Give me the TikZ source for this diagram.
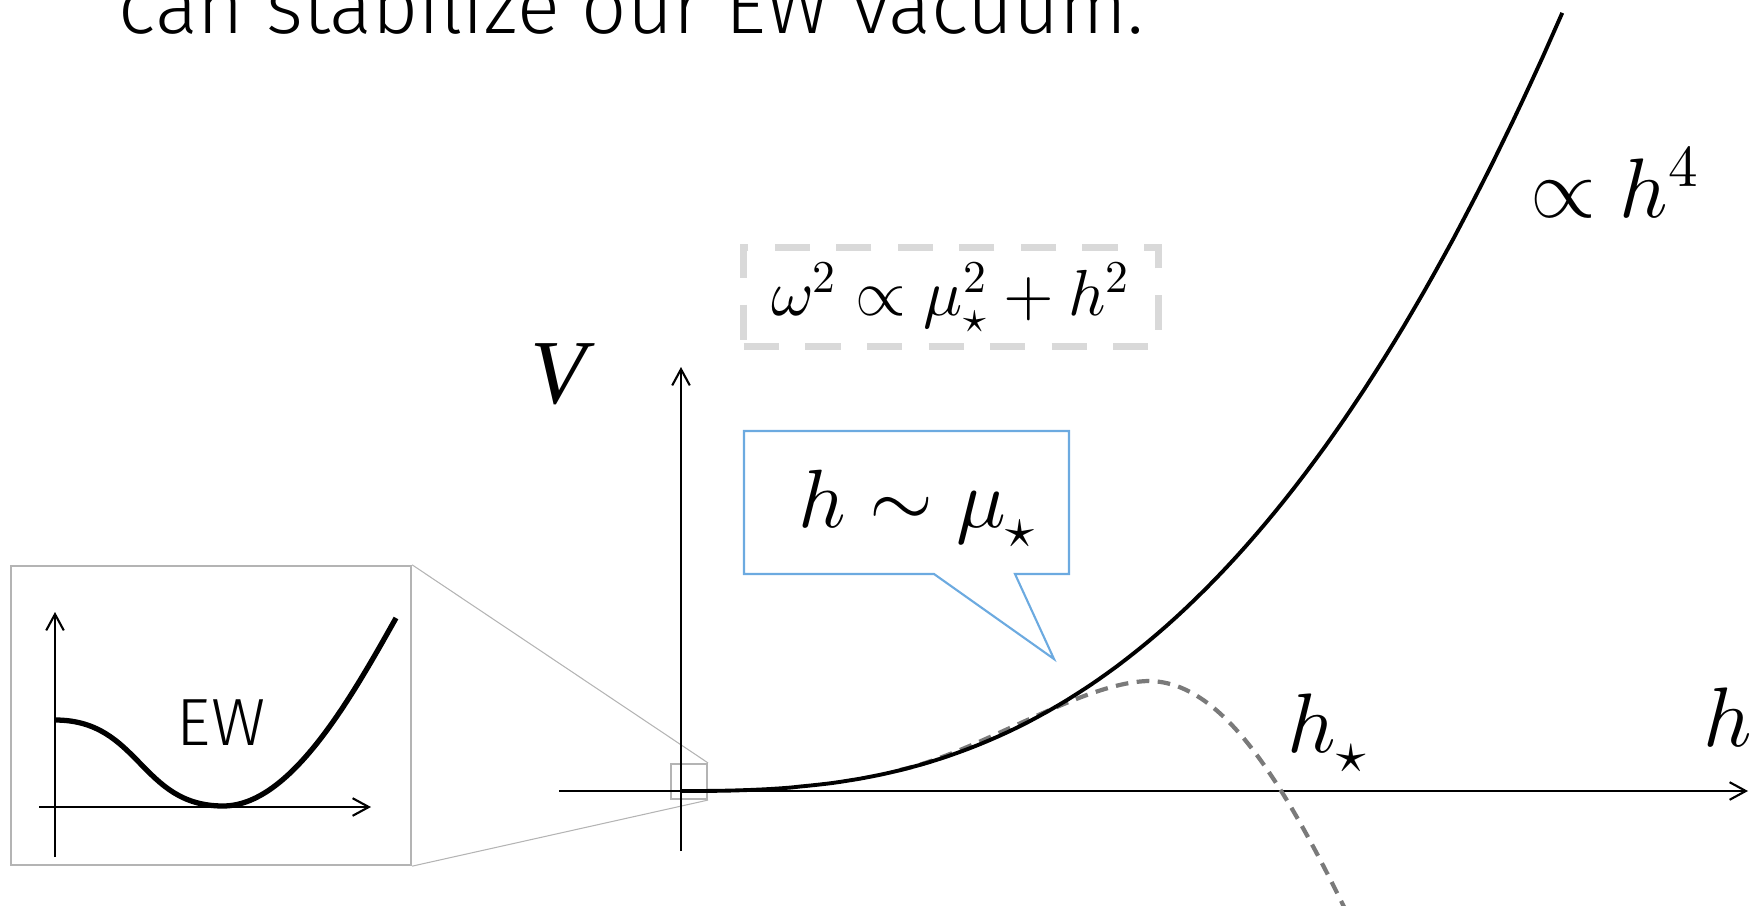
\documentclass[tikz,border=0pt]{standalone}
\usepackage{fontspec,unicode-math}
\setmathfont{Latin Modern Math}
\usetikzlibrary{arrows.meta,calc}
\newfontfamily\lightsans{Fira Sans Light}
\newfontfamily\vfont{Liberation Serif}
\definecolor{callblue}{HTML}{6CAAE0}
\definecolor{boxgray}{HTML}{D9D9D9}
\definecolor{zoomgray}{HTML}{B4B4B4}
\definecolor{dashgray}{HTML}{7A7A7A}

\begin{document}
\begin{tikzpicture}[x=0.01cm,y=-0.01cm,>={Straight Barb[length=4.6pt,width=5pt]},every node/.style={font=\fontsize{24}{28}\selectfont,inner sep=0pt}]
\useasboundingbox (0,0) rectangle (1760,906);
\clip (0,0) rectangle (1760,906);
\node[anchor=base west,font=\lightsans\fontsize{22.6}{28}\selectfont] (title) at (118,33) {can stabilize our EW vacuum.};
\node[draw=zoomgray,line width=0.6pt,minimum width=4cm,minimum height=2.99cm] (inset) at (211,715.5) {};
\node[draw=zoomgray,line width=0.6pt,minimum width=0.36cm,minimum height=0.35cm] (zoom) at (689,781.5) {};
\draw[zoomgray,line width=0.3pt] (inset.north east) -- (zoom.north east);
\draw[zoomgray,line width=0.3pt] (inset.south east) -- (zoom.south east);
\draw[->,line width=0.6pt] (55,857) -- (55,612);
\draw[->,line width=0.6pt] (39,807) -- (371,807);
\draw[line width=1.5pt] (55,720) .. controls (140,720) and (140,806) .. (223,806) .. controls (290,806) and (350,700) .. (396,618);
\node[font=\lightsans\fontsize{19}{22}\selectfont,anchor=base] (ew) at (221,745) {EW};
\coordinate (O) at (681,791);
\coordinate (hbeg) at (559,791);
\coordinate (hend) at (1748,791);
\coordinate (Vbot) at (681,851);
\coordinate (Vtop) at (681,367);
\draw[->,line width=0.6pt] (hbeg) -- (hend);
\draw[->,line width=0.6pt] (Vbot) -- (Vtop);
\draw[dashgray,line width=1.2pt,dash pattern=on 3.6pt off 2.4pt] (900,770) .. controls (980,752) and (1080,683) .. (1148,681) .. controls (1222,681) and (1282,780) .. (1348,915);
\draw[line width=1.1pt] plot[domain=0.001:1,samples=90,variable=\t] ({681+882*\t},{791-780*\t^2.6});
\node[font=\vfont\itshape\fontsize{26}{30}\selectfont,anchor=base west] (Vlab) at (530,403) {V};
\node[anchor=base west] (hlab) at (1703,746) {$h$};
\node[anchor=base west] (hstar) at (1287,752) {$h_\star$};
\node[anchor=base west] (hfour) at (1530,217) {$\propto h^4$};
\node[draw=boxgray,line width=2pt,dash pattern=on 10pt off 7.5pt,minimum width=4.14cm,minimum height=0.99cm,font=\fontsize{18.5}{22}\selectfont] (freq) at (951,297) {$\omega^2\propto\mu_\star^2+h^2$};
\draw[callblue,line width=0.6pt,fill=white] (744,431) -- (1069,431) -- (1069,574) -- (1015,574) -- (1054,659) -- (934,574) -- (744,574) -- cycle;
\node[anchor=base west,font=\fontsize{23.5}{28}\selectfont] (sim) at (798,527) {$h\sim\mu_\star$};
\end{tikzpicture}
\end{document}
